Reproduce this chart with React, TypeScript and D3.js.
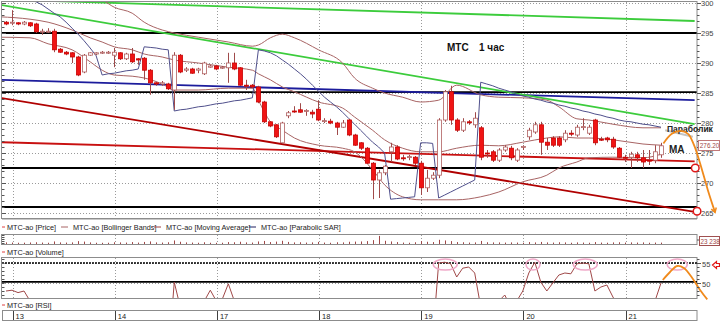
import React from "react";
import * as d3 from "d3";

// ---------- DATA (hourly candles, MTS) ----------
const openP = [
  296.8, 296.7, 296.7, 296.5, 296.7, 296.5, 295.2, 295.2, 295.3, 292.3,
  291.8, 291.7, 291.0, 288.5, 291.3, 291.5, 291.7, 291.7, 291.3, 291.7,
  290.7, 291.5, 290.7, 290.8, 288.8, 286.7, 286.5, 286.5, 285.5, 291.3,
  288.8, 289.0, 288.8, 288.2, 289.3, 289.5, 289.2, 289.2, 290.0, 289.2,
  286.3, 286.3, 286.0, 283.5, 280.2, 279.7, 276.7, 281.2, 282.0, 282.2,
  282.0, 281.8, 282.3, 280.3, 280.3, 280.0, 279.3, 280.5, 278.0, 276.7,
  275.8, 273.3, 270.5, 271.7, 275.2, 276.0, 274.2, 274.3, 274.3, 273.3,
  269.2, 270.8, 271.3, 280.5, 285.2, 280.5, 278.8, 280.2, 279.7, 279.2,
  275.0, 275.2, 273.8, 275.5, 275.8, 273.8, 276.0, 277.7, 278.5, 279.7,
  276.8, 277.5, 277.5, 277.2, 278.3, 278.0, 279.3, 278.3, 280.5, 277.3,
  277.5, 277.3, 275.8, 274.3, 274.3, 274.7, 274.2, 273.8, 273.8, 274.7,
];
const closeP = [
  296.5, 296.8, 296.5, 296.8, 296.2, 295.2, 295.3, 295.3, 292.2, 291.8,
  291.5, 291.0, 288.0, 291.3, 291.7, 291.7, 291.8, 291.8, 291.8, 290.7,
  291.5, 290.2, 290.5, 288.8, 286.7, 286.5, 286.7, 285.7, 291.3, 288.5,
  289.0, 288.3, 289.0, 290.0, 289.5, 289.0, 289.3, 290.0, 289.0, 286.3,
  286.2, 286.0, 283.5, 280.2, 279.5, 277.7, 280.0, 281.7, 281.9, 281.8,
  282.1, 281.5, 280.5, 280.4, 280.0, 279.3, 280.0, 278.0, 276.3, 275.8,
  273.3, 270.5, 271.7, 272.8, 276.0, 274.0, 274.1, 274.4, 273.3, 269.2,
  270.8, 271.3, 280.5, 285.2, 280.5, 278.8, 280.2, 280.1, 280.8, 274.3,
  274.9, 273.8, 275.5, 276.0, 274.2, 275.5, 276.1, 278.8, 279.7, 276.8,
  276.3, 276.3, 276.3, 278.3, 278.2, 279.3, 279.4, 279.3, 276.7, 277.2,
  277.2, 276.0, 274.3, 274.2, 274.8, 274.2, 273.5, 273.7, 275.2, 276.2,
];
const highP = [
  297.0, 298.8, 296.8, 297.0, 296.8, 296.7, 295.7, 295.8, 295.7, 292.5,
  292.0, 291.8, 291.2, 291.5, 291.8, 291.8, 292.0, 292.0, 292.5, 291.8,
  291.7, 292.5, 290.8, 291.0, 289.0, 286.8, 287.0, 286.7, 291.8, 291.5,
  289.3, 289.2, 289.2, 290.2, 289.7, 289.7, 289.5, 291.7, 291.7, 289.3,
  287.2, 286.5, 286.2, 283.7, 280.3, 279.8, 280.2, 282.0, 282.8, 283.3,
  282.3, 282.2, 283.8, 280.8, 280.7, 280.2, 280.5, 280.7, 278.2, 276.8,
  276.0, 273.5, 272.2, 273.0, 276.7, 276.3, 274.7, 274.7, 274.5, 273.7,
  272.2, 271.8, 280.8, 285.5, 286.2, 280.8, 280.8, 280.5, 281.8, 279.5,
  275.5, 275.5, 275.8, 276.3, 276.2, 275.8, 276.3, 279.2, 280.2, 280.2,
  277.5, 277.8, 277.8, 278.8, 278.8, 279.7, 280.8, 279.7, 280.7, 277.7,
  277.7, 277.7, 276.0, 274.7, 275.2, 275.2, 275.5, 275.5, 276.3, 276.7,
];
const lowP = [
  296.3, 296.3, 296.3, 296.3, 296.0, 295.0, 294.7, 295.0, 291.8, 291.7,
  291.3, 290.0, 287.8, 288.3, 291.2, 291.3, 291.5, 291.5, 289.3, 290.5,
  290.5, 290.0, 289.7, 287.2, 284.7, 286.2, 286.2, 285.5, 282.2, 288.3,
  288.5, 288.2, 288.3, 288.0, 289.2, 288.8, 289.0, 286.7, 288.8, 286.2,
  285.5, 285.8, 283.3, 280.0, 279.3, 277.5, 276.5, 280.8, 281.7, 281.7,
  281.2, 280.8, 280.3, 280.0, 279.8, 278.0, 279.2, 277.8, 276.2, 275.5,
  273.2, 267.3, 267.5, 271.3, 273.5, 273.8, 273.7, 273.8, 273.0, 268.0,
  268.5, 270.5, 270.8, 280.2, 279.7, 278.5, 278.5, 279.7, 279.2, 273.8,
  274.2, 273.5, 273.5, 275.2, 273.8, 273.5, 275.5, 277.2, 278.2, 274.7,
  275.5, 276.0, 276.0, 276.8, 277.8, 277.7, 278.8, 278.0, 276.3, 277.0,
  276.8, 275.7, 274.2, 273.5, 272.5, 273.5, 272.5, 273.0, 273.3, 274.2,
];
const sarP = [
  301.8, 301.5, 301.2, 300.8, 300.5, 300.2, 299.7, 299.0, 298.3, 297.7,
  296.8, 295.8, 294.8, 293.7, 292.5, 291.2, 288.0, 288.2, 288.3, 288.5,
  288.7, 288.8, 289.0, 292.7, 292.6, 292.5, 292.3, 292.2, 282.0, 282.2,
  282.3, 282.5, 282.7, 282.8, 283.0, 283.2, 283.3, 283.5, 283.7, 283.8,
  284.0, 284.2, 292.2, 292.0, 291.7, 291.2, 290.5, 289.8, 289.0, 288.2,
  287.3, 286.3, 285.3, 284.3, 283.5, 282.7, 281.8, 280.8, 279.8, 278.8,
  277.8, 276.8, 276.0, 275.0, 267.3, 267.4, 267.5, 267.6, 267.7, 276.7,
  276.7, 276.6, 267.5, 268.0, 268.5, 269.0, 269.5, 270.0, 270.5, 286.8,
  286.5, 286.2, 285.8, 285.5, 285.2, 284.8, 284.5, 284.3, 284.0, 283.8,
  283.5, 283.3, 283.0, 282.8, 282.5, 282.3, 282.0, 281.8, 281.5, 281.3,
  281.0, 280.8, 280.5, 280.3, 280.2, 280.0, 279.8, 279.7, 279.5, 279.3,
];
const volumes = [
  30000, 25000, 20000, 22000, 28000, 35000, 25000, 20000, 60000, 30000,
  25000, 30000, 70000, 55000, 30000, 20000, 18000, 20000, 35000, 30000,
  25000, 40000, 25000, 45000, 60000, 30000, 25000, 35000, 90000, 50000,
  30000, 25000, 20000, 35000, 20000, 18000, 20000, 40000, 35000, 50000,
  30000, 25000, 60000, 75000, 40000, 55000, 80000, 45000, 30000, 35000,
  25000, 30000, 45000, 25000, 20000, 35000, 30000, 50000, 55000, 60000,
  70000, 100000, 230000, 80000, 60000, 40000, 25000, 20000, 35000, 70000,
  50000, 40000, 110000, 90000, 70000, 40000, 35000, 25000, 30000, 75000,
  35000, 30000, 30000, 25000, 30000, 25000, 20000, 40000, 30000, 45000,
  30000, 25000, 35000, 30000, 20000, 30000, 25000, 20000, 40000, 25000,
  20000, 30000, 35000, 25000, 30000, 25000, 30000, 20000, 25000, 23238,
];
const rsiVals = [
  48.0, 48.2, 47.6, 48.0, 45.5, 41, 40, 39, 35, 33,
  32, 31, 28, 35, 36, 37, 38, 38, 39, 37,
  39, 36, 37, 33, 30, 31, 32, 31, 50.2, 44,
  44, 43, 44, 45.5, 48.2, 45.5, 46.0, 49.8, 45.5, 40,
  39, 38, 34, 29, 28, 26, 33, 36, 37, 37,
  38, 37, 36, 35, 35, 34, 36, 33, 31, 30,
  27, 24, 28, 31, 40, 37, 38, 38, 36, 31,
  35, 36, 55.0, 55.2, 54.8, 51.5, 53.7, 54.0, 52.5, 44,
  45, 43, 45.5, 47.0, 44, 45.5, 48.0, 52.5, 55.2, 50.2,
  48.0, 50.0, 52.0, 52.5, 52.3, 54.8, 55.0, 54.8, 48.0, 49.0,
  49.5, 46.5, 44, 43, 44, 43, 42, 43, 45.5, 50.0,
];
// Bollinger bands read at sampled candle indexes
const bbIdx = [-1, 4, 7, 11, 14, 16, 18, 21, 23, 26, 28, 32, 37, 41, 42, 44, 46, 48, 52, 56, 58, 61, 63, 66, 69, 72, 75, 79, 82, 86, 90, 92, 95, 97, 101, 106, 109];
const bbUpper = [301.0, 301.5, 301.5, 301.3, 301.0, 300.5, 299.3, 298.3, 296.8, 295.5, 295.0, 294.3, 293.5, 292.8, 293.0, 294.2, 294.8, 294.2, 292.2, 290.0, 287.5, 285.8, 285.0, 284.3, 283.5, 283.8, 286.3, 284.7, 284.3, 284.2, 283.8, 282.7, 280.7, 280.5, 279.8, 279.2, 279.2];
const bbMiddle = [297.7, 297.3, 296.8, 295.5, 294.2, 293.5, 292.7, 292.2, 291.5, 291.0, 290.5, 290.0, 289.3, 288.8, 288.2, 287.2, 286.0, 285.2, 283.5, 282.5, 281.0, 278.8, 277.2, 275.8, 275.2, 275.2, 275.8, 276.3, 276.2, 276.8, 277.5, 277.7, 277.5, 277.5, 277.2, 276.5, 276.3];
const bbLower = [294.3, 294.2, 293.2, 292.2, 290.2, 288.8, 288.0, 287.8, 287.5, 286.5, 285.5, 285.5, 285.8, 285.8, 283.8, 280.2, 278.8, 277.5, 276.3, 275.8, 275.2, 272.2, 269.7, 267.7, 267.2, 267.2, 267.2, 267.7, 268.5, 270.2, 271.3, 272.5, 273.5, 274.2, 274.3, 274.2, 274.8];

const dayStartIdx = [1.1, 18.1, 35.1, 52.1, 69.1, 86.1, 103.1];
const dayLabels = ["13", "14", "17", "18", "19", "20", "21"];
const priceTicks = [300, 295, 290, 285, 280, 275, 270, 265];
const rsiTicks = [55, 50];
const hLevels = [295.0, 285.15, 272.5, 266.0];
const rsiSolidLevel = 50.3;
const rsiDashLevel = 55;
// hand-drawn trend lines: [index, price]
const greenTop = [[-1, 300.6], [114.6, 297.0]];
const greenMid = [[-1, 299.7], [114.6, 279.8]];
const blueLine = [[-1, 287.2], [114.6, 283.8]];
const redSteep = [[-1, 284.2], [114.6, 265.2]];
const redFlat = [[-1, 276.8], [114.6, 273.6]];
const sarExtension = [[109.7, 278.8], [114.3, 277.7]];
const forecastMain = [[109.4, 276.6], [110.8, 278.2], [112.2, 278.7], [113.5, 278.2], [114.5, 276.3], [115.5, 273.3], [116.8, 268.8], [118.0, 265.1]];
const forecastRsi = [[109.3, 50.75], [110.5, 52.75], [111.7, 54.25], [112.8, 53.75], [114.2, 51.25], [115.5, 48.25], [116.7, 45.9]];
const rsiHighlights = [73.1, 87.7, 96.4, 111.7];
const rsiHighlightRx = [12, 7, 12, 10];
const markCircles = [[114.7, 272.5], [115.0, 265.3]];
const legendItems = ["MTC-ao [Price]", "MTC-ao [Bollinger Bands]", "MTC-ao [Moving Average]", "MTC-ao [Parabolic SAR]"];

const FONT = "'Liberation Sans', Arial, sans-serif";

export default function App() {
  const L = 2, R = 697;
  const MT = 2, MB = 218;
  const x = d3.scaleLinear().domain([0, 109]).range([6, 661]);
  const y = d3.scaleLinear().domain([265, 300]).range([213, 3]);
  const yR = d3.scaleLinear().domain([46.25, 56.25]).range([298, 258]);
  const yV = d3.scaleLinear().domain([0, 260000]).range([244, 235.5]);
  const n = closeP.length;
  const idx = d3.range(n);

  const ptLine = (yy: any, curve: any = d3.curveLinear) =>
    d3.line<number[]>().x((d) => x(d[0])).y((d) => yy(d[1])).curve(curve);
  const lineP = ptLine(y);
  const smooth = ptLine(y, d3.curveMonotoneX);
  const bb = (arr: number[]) => bbIdx.map((k, j) => [k, arr[j]]);
  const sarPath = d3.line<number>().x((i) => x(i)).y((i) => y(sarP[i]))(idx) || "";
  const rsiPath = d3.line<number>().x((i) => x(i)).y((i) => yR(rsiVals[i]))(idx) || "";
  const fm = forecastMain.map((d) => [x(d[0]), y(d[1])]);
  const fmPath = d3.line().curve(d3.curveCatmullRom)(fm as any) || "";
  const frPath = d3.line().curve(d3.curveCatmullRom)(forecastRsi.map((d) => [x(d[0]), yR(d[1])]) as any) || "";
  const last = fm[fm.length - 1];
  const prev = fm[fm.length - 2];
  const ang = Math.atan2(last[1] - prev[1], last[0] - prev[0]);
  const ah = (da: number) => [last[0] - 5 * Math.cos(ang + da), last[1] - 5 * Math.sin(ang + da)];
  const a1 = ah(0.55), a2 = ah(-0.55);

  const minorTicks = d3.range(265, 301, 1);
  const rsiMinor = d3.range(47, 57, 1);
  const fmt = (v: number) => d3.format(",")(v).replace(/,/g, " ");
  const lastClose = closeP[n - 1];

  const gridStroke = "#9a9a9a";
  const bbColor = "#a86464";

  return (
    <svg width={720} height={321} style={{ position: "absolute", left: 0, top: 0, background: "#fff" }} fontFamily={FONT}>
      <defs>
        <clipPath id="mainClip"><rect x={L} y={MT} width={R - L} height={MB - MT} /></clipPath>
        <clipPath id="rsiClip"><rect x={L} y={258} width={R - L} height={40} /></clipPath>
      </defs>
      <rect x={0} y={0} width={720} height={321} fill="#fff" />

      {/* ---------- MAIN PANEL ---------- */}
      <g clipPath="url(#mainClip)">
        {priceTicks.map((p) => (
          <line key={"hg" + p} x1={L} x2={R} y1={Math.round(y(p)) + 0.5} y2={Math.round(y(p)) + 0.5} stroke={gridStroke} strokeDasharray="1,2" />
        ))}
        {dayStartIdx.map((d) => (
          <line key={"vg" + d} x1={Math.round(x(d)) + 0.5} x2={Math.round(x(d)) + 0.5} y1={MT} y2={MB} stroke={gridStroke} strokeDasharray="1,2" />
        ))}
        {hLevels.map((p) => (
          <line key={"hl" + p} x1={L} x2={R} y1={y(p)} y2={y(p)} stroke="#000" strokeWidth={1.8} />
        ))}
        <path d={lineP(redFlat) || ""} stroke="#c81010" strokeWidth={1.8} fill="none" />
        <path d={lineP(redSteep) || ""} stroke="#b00000" strokeWidth={1.8} fill="none" />
        <path d={lineP(blueLine) || ""} stroke="#1c1c9c" strokeWidth={1.8} fill="none" />
        <path d={lineP(greenTop) || ""} stroke="#3ccc3c" strokeWidth={1.8} fill="none" />
        <path d={lineP(greenMid) || ""} stroke="#3ccc3c" strokeWidth={1.8} fill="none" />
        <path d={smooth(bb(bbUpper)) || ""} stroke={bbColor} strokeWidth={1} fill="none" />
        <path d={smooth(bb(bbMiddle)) || ""} stroke={bbColor} strokeWidth={1} fill="none" />
        <path d={smooth(bb(bbLower)) || ""} stroke={bbColor} strokeWidth={1} fill="none" />
        <path d={sarPath} stroke="#50508c" strokeWidth={1} fill="none" />
        {idx.map((i) => {
          const up = closeP[i] >= openP[i];
          const cx = Math.round(x(i)) + 0.5;
          const yo = y(openP[i]);
          const yc = y(closeP[i]);
          const top = Math.min(yo, yc);
          const h = Math.max(1, Math.abs(yo - yc));
          return (
            <g key={"c" + i}>
              <line x1={cx} x2={cx} y1={y(highP[i])} y2={y(lowP[i])} stroke="#a04a4a" strokeWidth={1} />
              <rect x={cx - 2} y={top} width={4} height={h} fill={up ? "#ffffff" : "#f01414"} stroke={up ? "#b06060" : "#c80000"} strokeWidth={0.8} />
            </g>
          );
        })}
        <path d={lineP(sarExtension) || ""} stroke="#c4c4c4" strokeWidth={2} fill="none" />
      </g>

      {/* main panel frame */}
      <rect x={1.5} y={1.5} width={R - 1.5} height={MB - 1} fill="none" stroke="#8c8c8c" />
      <line x1={L} x2={R} y1={MB + 1.5} y2={MB + 1.5} stroke="#c8c8c8" />

      {/* price axis */}
      {minorTicks.map((p) => (
        <g key={"mt" + p}>
          <line x1={R} x2={R + (p % 5 === 0 ? 4 : 2.5)} y1={Math.round(y(p)) + 0.5} y2={Math.round(y(p)) + 0.5} stroke="#555" />
          <line x1={L} x2={L + (p % 5 === 0 ? 4 : 2.5)} y1={Math.round(y(p)) + 0.5} y2={Math.round(y(p)) + 0.5} stroke="#555" />
        </g>
      ))}
      {priceTicks.map((p) => (
        <text key={"pt" + p} x={701} y={y(p) + 2.8} fontSize={7.5} fill="#444">{p}</text>
      ))}

      {/* annotations */}
      <text x={447} y={51} fontSize={10} fontWeight="bold" fill="#111">МТС</text>
      <text x={479} y={51} fontSize={10} fontWeight="bold" fill="#111">1 час</text>
      <text x={667} y={132} fontSize={8.5} fontWeight="bold" fill="#222">Параболик</text>
      <text x={669} y={153} fontSize={10} fontWeight="bold" fill="#222">MA</text>
      <rect x={698.5} y={140.5} width={21} height={10} fill="#fff" stroke="#c07878" />
      <text x={699.8} y={148.2} fontSize={6.4} fill="#a04848">{d3.format(".2f")(lastClose)}</text>
      <path d={fmPath} stroke="#f08a1c" strokeWidth={1.8} fill="none" />
      <polyline points={`${a1[0]},${a1[1]} ${last[0]},${last[1]} ${a2[0]},${a2[1]}`} stroke="#f08a1c" strokeWidth={1.5} fill="none" />
      {markCircles.map((c, k) => (
        <circle key={"mc" + k} cx={x(c[0])} cy={y(c[1])} r={3.8} fill="#fff" stroke="#e01818" strokeWidth={1.5} />
      ))}

      {/* legend */}
      <line x1={2} x2={5} y1={227} y2={227} stroke="#e04040" />
      {legendItems.map((t, k) => {
        const xs = [7, 73, 166, 261];
        const lc = ["", bbColor, "#a04040", "#202060"];
        return (
          <g key={"lg" + k}>
            {k > 0 && <line x1={xs[k] - 12} x2={xs[k] - 5} y1={227} y2={227} stroke={lc[k]} />}
            <text x={xs[k]} y={229.7} fontSize={7.3} fill="#222">{t}</text>
          </g>
        );
      })}

      {/* ---------- VOLUME PANEL ---------- */}
      <rect x={1.5} y={234.5} width={R - 1.5} height={10} fill="#fff" stroke="#8c8c8c" />
      {dayStartIdx.map((d) => (
        <line key={"vv" + d} x1={Math.round(x(d)) + 0.5} x2={Math.round(x(d)) + 0.5} y1={235} y2={244} stroke={gridStroke} strokeDasharray="1,2" />
      ))}
      {idx.map((i) => (
        <line key={"v" + i} x1={Math.round(x(i)) + 0.5} x2={Math.round(x(i)) + 0.5} y1={yV(0)} y2={yV(volumes[i]) - 0.6} stroke="#a04848" strokeWidth={1} />
      ))}
      {[235.5, 237.5, 239.5, 241.5, 243.5].map((t) => (
        <line key={"vt" + t} x1={L} x2={L + 2.5} y1={t} y2={t} stroke="#555" />
      ))}
      <line x1={R} x2={R + 3} y1={240} y2={240} stroke="#555" />
      <rect x={699.5} y={236.5} width={20} height={9} fill="#fff" stroke="#a05050" />
      <text x={700.6} y={243.5} fontSize={6.3} fill="#a04848">{fmt(volumes[n - 1])}</text>
      <line x1={2} x2={5} y1={252} y2={252} stroke="#e04040" />
      <text x={7} y={254.7} fontSize={7.3} fill="#222">MTC-ao [Volume]</text>

      {/* ---------- RSI PANEL ---------- */}
      <rect x={1.5} y={257.5} width={R - 1.5} height={41} fill="#fff" stroke="#8c8c8c" />
      <g clipPath="url(#rsiClip)">
        {rsiTicks.map((v) => (
          <line key={"rg" + v} x1={L} x2={R} y1={Math.round(yR(v)) + 0.5} y2={Math.round(yR(v)) + 0.5} stroke={gridStroke} strokeDasharray="1,2" />
        ))}
        {dayStartIdx.map((d) => (
          <line key={"rv" + d} x1={Math.round(x(d)) + 0.5} x2={Math.round(x(d)) + 0.5} y1={258} y2={298} stroke={gridStroke} strokeDasharray="1,2" />
        ))}
        <line x1={L} x2={R} y1={yR(rsiDashLevel)} y2={yR(rsiDashLevel)} stroke="#000" strokeWidth={1.6} strokeDasharray="2,1" />
        <line x1={L} x2={R} y1={yR(rsiSolidLevel)} y2={yR(rsiSolidLevel)} stroke="#000" strokeWidth={1.8} />
        <path d={rsiPath} stroke="#a04848" strokeWidth={1} fill="none" />
        {rsiHighlights.map((h, k) => (
          <ellipse key={"eh" + k} cx={x(h)} cy={yR(54.6)} rx={rsiHighlightRx[k]} ry={5.5} fill="none" stroke="#f0a8c8" strokeWidth={1.5} />
        ))}
      </g>
      <path d={frPath} stroke="#f08a1c" strokeWidth={1.8} fill="none" />
      {rsiMinor.map((v) => (
        <g key={"rm" + v}>
          <line x1={R} x2={R + (v % 5 === 0 ? 4 : 2.5)} y1={Math.round(yR(v)) + 0.5} y2={Math.round(yR(v)) + 0.5} stroke="#555" />
          <line x1={L} x2={L + 2.5} y1={Math.round(yR(v)) + 0.5} y2={Math.round(yR(v)) + 0.5} stroke="#555" />
        </g>
      ))}
      {rsiTicks.map((v) => (
        <text key={"rt" + v} x={702} y={yR(v) + 3.5} fontSize={7.5} fill="#444">{v}</text>
      ))}
      <path d="M712.5,265 L716.5,261.5 L716.5,263.5 L719.5,263.5 L719.5,266.5 L716.5,266.5 L716.5,268.5 Z" fill="#fff" stroke="#e01818" strokeWidth={1.2} />
      <line x1={2} x2={5} y1={305} y2={305} stroke="#e04040" />
      <text x={7} y={307.7} fontSize={7.3} fill="#222">MTC-ao [RSI]</text>

      {/* ---------- DATE AXIS ---------- */}
      <rect x={2.5} y={310.5} width={R - 2.5} height={10} fill="#fff" stroke="#8c8c8c" />
      {dayStartIdx.map((d, k) => (
        <g key={"dl" + k}>
          <line x1={Math.round(x(d)) + 0.5} x2={Math.round(x(d)) + 0.5} y1={311} y2={320} stroke="#404040" />
          <text x={x(d) + 3} y={318.5} fontSize={7.5} fill="#222">{dayLabels[k]}</text>
        </g>
      ))}
    </svg>
  );
}
